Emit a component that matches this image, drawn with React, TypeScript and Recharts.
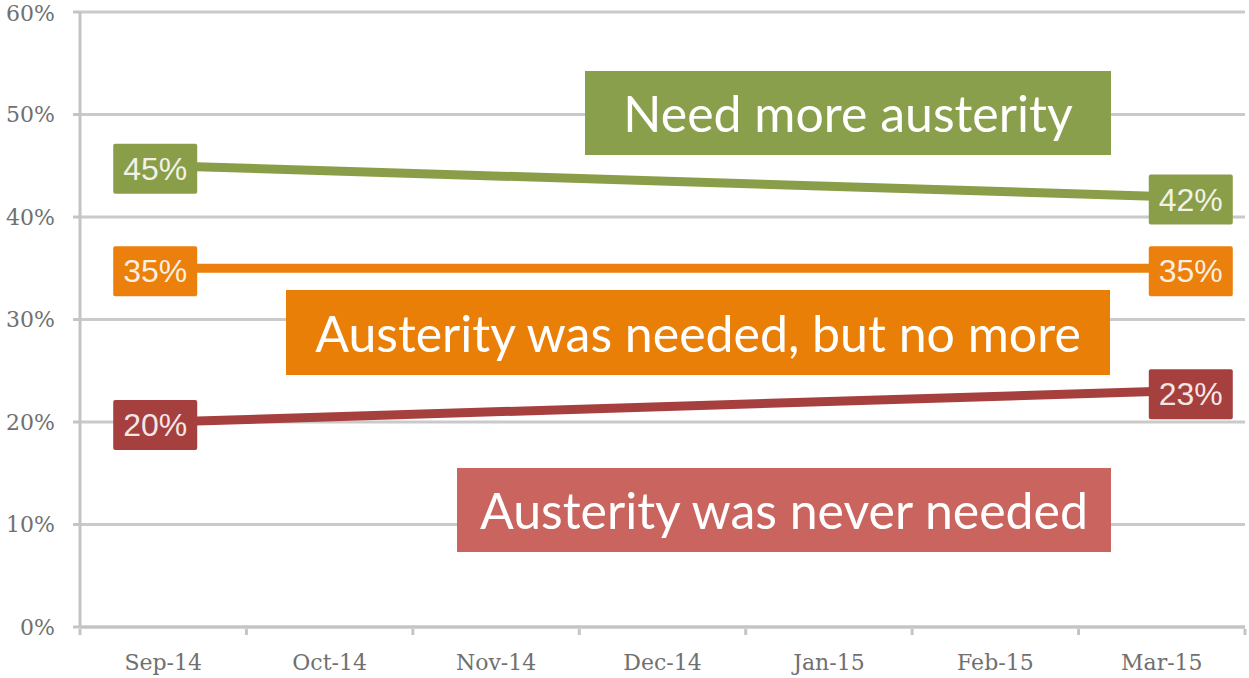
import { CartesianGrid, LabelList, Line, LineChart, XAxis, YAxis } from 'recharts';

const months = ['Sep-14', 'Oct-14', 'Nov-14', 'Dec-14', 'Jan-15', 'Feb-15', 'Mar-15'];
const moreAusterity = [45, null, null, null, null, null, 42];
const neededNoMore = [35, null, null, null, null, null, 35];
const neverNeeded = [20, null, null, null, null, null, 23];
const yTicks = [0, 10, 20, 30, 40, 50, 60];

const GREEN = '#8a9e4a';
const ORANGE = '#eb800c';
const RED = '#a6403e';

const W = 1249;
const H = 678;
const LEFT = 80;
const RIGHT = 4;
const halfBand = (W - LEFT - RIGHT) / months.length / 2;

const data = months.map((m, i) => ({
  month: m,
  more: moreAusterity[i],
  noMore: neededNoMore[i],
  never: neverNeeded[i],
}));

const makeBadge = (color: string) => (props: any) => {
  const { x, y, value, index } = props;
  if (value == null) return null;
  const cx = index === 0 ? x - 8 : x + 29;
  const cy = y + 3;
  return (
    <g>
      <rect x={cx - 42} y={cy - 25} width={84} height={50} fill={color} rx={2} />
      <text
        x={cx}
        y={cy + 11}
        textAnchor="middle"
        fontFamily="'Liberation Sans', sans-serif"
        fontSize={32}
        fill="rgba(255,255,255,0.88)"
      >
        {value}%
      </text>
    </g>
  );
};

const MonthTick = (props: any) => {
  const { x, y, payload, index } = props;
  return (
    <g>
      <line x1={x + halfBand} y1={y} x2={x + halfBand} y2={y + 6} stroke="#c4c4c4" strokeWidth={3} />
      {index === 0 && <line x1={x - halfBand} y1={y} x2={x - halfBand} y2={y + 6} stroke="#c4c4c4" strokeWidth={3} />}
      <text x={x} y={y + 41} textAnchor="middle" fontFamily="'DejaVu Serif', serif" fontSize={22} fill="#707070">
        {payload.value}
      </text>
    </g>
  );
};

const notes = [
  { text: 'Need more austerity', bg: '#8a9f4b', left: 585, top: 71, width: 526, height: 84 },
  { text: 'Austerity was needed, but no more', bg: '#ea7f08', left: 286, top: 290, width: 824, height: 85 },
  { text: 'Austerity was never needed', bg: '#c9645e', left: 457, top: 468, width: 654, height: 84 },
];

export default function App() {
  return (
    <div style={{ position: 'absolute', left: 0, top: 0, width: W, height: H, background: '#fff' }}>
      <LineChart width={W} height={H} data={data} margin={{ top: 12, right: RIGHT, left: 0, bottom: 0 }}>
        <CartesianGrid vertical={false} stroke="#cacaca" strokeWidth={3} />
        <XAxis
          dataKey="month"
          height={51}
          padding={{ left: halfBand, right: halfBand }}
          tick={<MonthTick />}
          tickLine={false}
          tickSize={0}
          axisLine={{ stroke: '#c4c4c4', strokeWidth: 3 }}
          interval={0}
        />
        <YAxis
          width={LEFT}
          domain={[0, 60]}
          ticks={yTicks}
          tickFormatter={(v) => `${v}%`}
          tickSize={7}
          tickMargin={18}
          tickLine={{ stroke: '#c4c4c4', strokeWidth: 3 }}
          axisLine={{ stroke: '#c4c4c4', strokeWidth: 3 }}
          tick={{ fontFamily: "'DejaVu Serif', serif", fontSize: 22, fill: '#707070' }}
        />
        <Line dataKey="more" stroke={GREEN} strokeWidth={9} dot={false} connectNulls isAnimationActive={false}>
          <LabelList dataKey="more" content={makeBadge(GREEN)} />
        </Line>
        <Line dataKey="noMore" stroke={ORANGE} strokeWidth={9} dot={false} connectNulls isAnimationActive={false}>
          <LabelList dataKey="noMore" content={makeBadge(ORANGE)} />
        </Line>
        <Line dataKey="never" stroke={RED} strokeWidth={9} dot={false} connectNulls isAnimationActive={false}>
          <LabelList dataKey="never" content={makeBadge(RED)} />
        </Line>
      </LineChart>
      {notes.map((n) => (
        <div
          key={n.text}
          style={{
            position: 'absolute',
            left: n.left,
            top: n.top,
            width: n.width,
            height: n.height,
            background: n.bg,
            color: '#fff',
            fontFamily: 'Lato, sans-serif',
            fontSize: 50,
            display: 'flex',
            alignItems: 'center',
            justifyContent: 'center',
            whiteSpace: 'nowrap',
          }}
        >
          {n.text}
        </div>
      ))}
    </div>
  );
}
